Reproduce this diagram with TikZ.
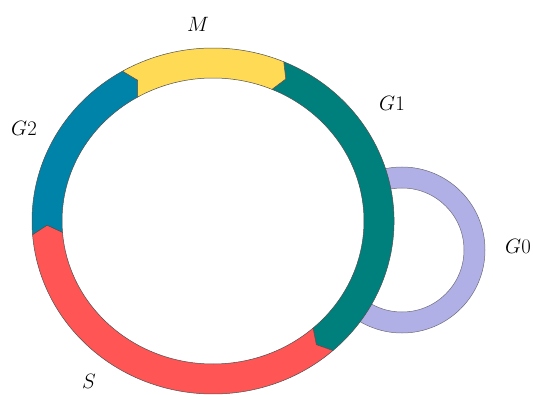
\documentclass[tikz,border=0pt]{standalone}
\usepackage{tikz}
\definecolor{phaseM}{RGB}{255,218,85}
\definecolor{phaseGone}{RGB}{0,128,124}
\definecolor{phaseS}{RGB}{255,85,85}
\definecolor{phaseGtwo}{RGB}{0,131,168}
\definecolor{phaseGzero}{RGB}{176,176,230}
\definecolor{rimline}{RGB}{80,80,80}
\tikzset{
  segment/.style={draw=rimline, line width=0.5pt, line join=miter},
  phaselabel/.style={font=\fontsize{20}{24}\selectfont, inner sep=0pt}
}
% one phase of the cycle: colour, start angle, end angle, notch angle, tip angle
\newcommand\cyclearc[5]{%
  \filldraw[segment, fill=#1]
    ([shift={(C)}]#2:181pt and 173pt)
      arc[start angle=#2, end angle=#3, x radius=181pt, y radius=173pt]
    -- ([shift={(C)}]#5:166pt and 158pt)
    -- ([shift={(C)}]#3:151pt and 143pt)
      arc[start angle=#3, end angle=#2, x radius=151pt, y radius=143pt]
    -- ([shift={(C)}]#4:166pt and 158pt)
    -- cycle;}
\begin{document}
\begin{tikzpicture}[x=1pt, y=1pt]
  \useasboundingbox (0,0) rectangle (533,394);
  \coordinate (C) at (213,173);
  \coordinate (Z) at (402,144);
  % resting phase loop, drawn behind the main cycle
  \filldraw[fill=phaseGzero, draw=rimline!70!phaseGzero, line width=0.5pt, even odd rule]
    (Z) circle[radius=83] (Z) circle[radius=62];
  % clear the inside of the main cycle
  \fill[white] (C) ellipse[x radius=151, y radius=143];
  % the four phases, running clockwise
  \cyclearc{phaseGone}{67}{-48.5}{64}{-51.5}
  \cyclearc{phaseS}{-48.5}{-175.5}{-51.5}{-178.5}
  \cyclearc{phaseGtwo}{184.5}{120}{181.5}{117}
  \cyclearc{phaseM}{120}{67}{117}{64}
  % labels
  \node[phaselabel] (lM)  at (198,370) {$M$};
  \node[phaselabel] (lG1) at (392,291) {$G1$};
  \node[phaselabel] (lG2) at (24,266)  {$G2$};
  \node[phaselabel] (lG0) at (518,148) {$G0$};
  \node[phaselabel] (lS)  at (89,13)   {$S$};
\end{tikzpicture}
\end{document}
